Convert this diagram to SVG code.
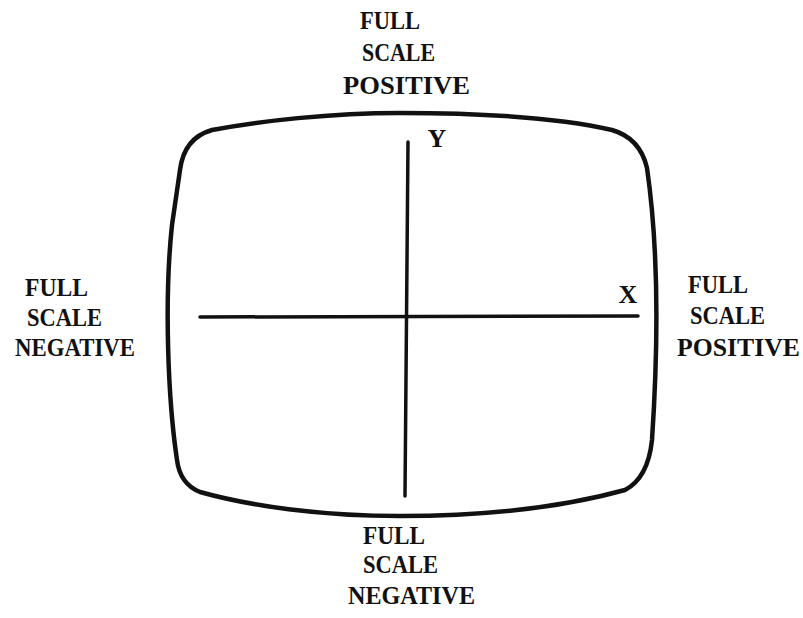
<svg xmlns="http://www.w3.org/2000/svg" width="803" height="618" viewBox="0 0 803 618">
<style>
.t{font-family:"Liberation Serif","Times New Roman",serif;font-weight:bold;font-size:25px;fill:#111}
.ax{font-family:"Liberation Serif","Times New Roman",serif;font-weight:bold;font-size:26px;fill:#111}
.scr{fill:none;stroke:#111;stroke-width:4.5;stroke-linejoin:round}
.axis{stroke:#111;stroke-width:3.5;stroke-linecap:round;fill:none}
</style>
<rect width="803" height="618" fill="#fff"/>
<g id="screen">
<path class="scr" d="M 400 113 C 480 113 560 118 612 130 Q 640 138 647 168 C 656 230 660 320 652 440 Q 648 478 625 490 C 560 508 480 516 400 516 C 320 516 250 506 200 492 Q 180 484 177 460 C 168 400 164 300 172 225 L 180 170 Q 184 138 212 130 C 260 121 330 113 400 113 Z"/>
</g>
<g id="connectors">
<path class="axis" d="M 408 142 L 405 496"/>
<path class="axis" d="M 200 317 L 638 316"/>
</g>
<g id="axis-y"><text class="ax" x="437" y="147" text-anchor="middle">Y</text></g>
<g id="axis-x"><text class="ax" x="628" y="303" text-anchor="middle">X</text></g>
<g id="top-label">
<text class="t" x="360" y="29" textLength="60" lengthAdjust="spacingAndGlyphs">FULL</text>
<text class="t" x="362" y="61" textLength="73" lengthAdjust="spacingAndGlyphs">SCALE</text>
<text class="t" x="343" y="94" textLength="127" lengthAdjust="spacingAndGlyphs">POSITIVE</text>
</g>
<g id="left-label">
<text class="t" x="25" y="296" textLength="63" lengthAdjust="spacingAndGlyphs">FULL</text>
<text class="t" x="27" y="326" textLength="75" lengthAdjust="spacingAndGlyphs">SCALE</text>
<text class="t" x="15" y="356" textLength="120" lengthAdjust="spacingAndGlyphs">NEGATIVE</text>
</g>
<g id="right-label">
<text class="t" x="688" y="293" textLength="60" lengthAdjust="spacingAndGlyphs">FULL</text>
<text class="t" x="690" y="324" textLength="75" lengthAdjust="spacingAndGlyphs">SCALE</text>
<text class="t" x="677" y="356" textLength="123" lengthAdjust="spacingAndGlyphs">POSITIVE</text>
</g>
<g id="bottom-label">
<text class="t" x="363" y="544" textLength="62" lengthAdjust="spacingAndGlyphs">FULL</text>
<text class="t" x="363" y="573" textLength="75" lengthAdjust="spacingAndGlyphs">SCALE</text>
<text class="t" x="348" y="604" textLength="127" lengthAdjust="spacingAndGlyphs">NEGATIVE</text>
</g>
</svg>
